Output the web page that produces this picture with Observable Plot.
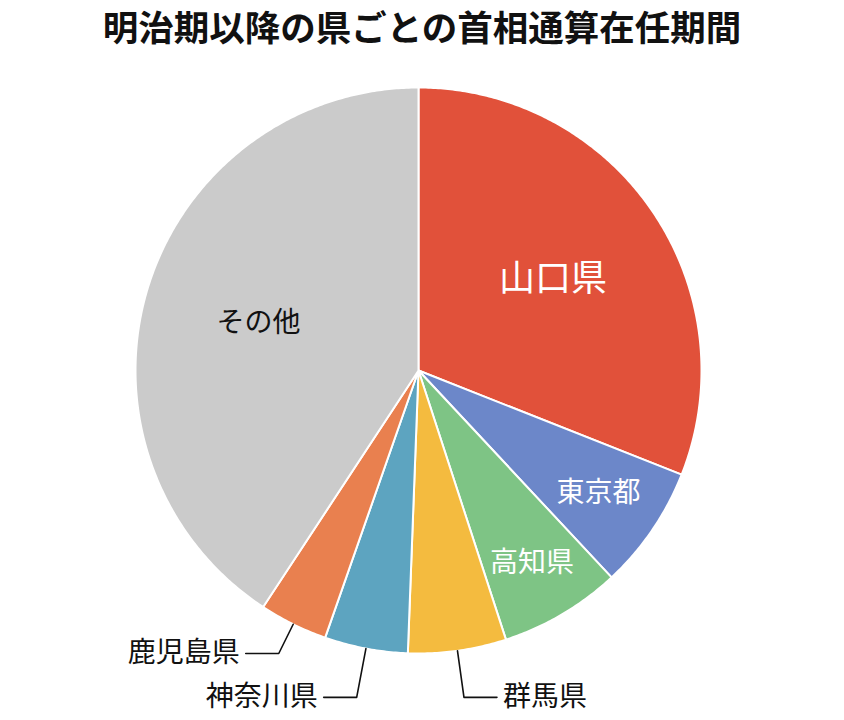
<!DOCTYPE html>
<html>
<head>
<meta charset="utf-8">
<script src="https://cdn.jsdelivr.net/npm/d3@7"></script>
<script src="https://cdn.jsdelivr.net/npm/@observablehq/plot@0.6"></script>
<style>
  body { margin: 0; background: #fff; font-family: "Noto Sans CJK JP", "Noto Sans", sans-serif; }
  #title { width: 844px; height: 52px; line-height: 52px; text-align: center; font-size: 35.5px; font-weight: bold; color: #111; white-space: nowrap; }
  #chart svg { display: block; }
</style>
</head>
<body>
<div id="title">明治期以降の県ごとの首相通算在任期間</div>
<div id="chart"></div>
<script>
// Data (share of total tenure, %), clockwise from 12 o'clock
const names  = ["山口県", "東京都", "高知県", "群馬県", "神奈川県", "鹿児島県", "その他"];
const shares = [31.0, 7.05, 6.95, 5.6, 4.75, 3.9, 40.75];
const colors = ["#E1513A", "#6C87C9", "#7EC485", "#F4BB3F", "#5DA4C0", "#E9804F", "#CBCBCB"];

// Label layout (styles/positions kept separate from data)
const insideLabels = {
  "山口県":  {r: 0.575, size: 36, color: "#ffffff"},
  "東京都":  {r: 0.77,  size: 28, color: "#ffffff"},
  "高知県":  {r: 0.79,  size: 28, color: "#ffffff"},
  "その他":  {r: 0.59,  size: 28, color: "#111111"}
};
const outsideLabels = {
  "鹿児島県": {elbowY: -1.0,   side: -1},
  "神奈川県": {elbowY: -1.155, side: -1},
  "群馬県":   {elbowY: -1.155, side: 1}
};

const R_PX = 283, CX = 418, CY = 318;
const px = 1 / R_PX;

const total = d3.sum(shares);
let acc = 0;
const slices = names.map((name, i) => {
  const a0 = acc / total * 2 * Math.PI;
  acc += shares[i];
  const a1 = acc / total * 2 * Math.PI;
  return {name, color: colors[i], a0, a1, mid: (a0 + a1) / 2};
});

// Wedge polygons in data units (unit circle), angle clockwise from north
function wedge(s) {
  const pts = [{name: s.name, x: 0, y: 0}];
  const n = Math.max(2, Math.ceil((s.a1 - s.a0) / (Math.PI / 360)));
  for (let k = 0; k <= n; k++) {
    const a = s.a0 + (s.a1 - s.a0) * k / n;
    pts.push({name: s.name, x: Math.sin(a), y: Math.cos(a)});
  }
  return pts;
}

const marks = slices.map(s => Plot.line(wedge(s), {
  x: "x", y: "y", curve: "linear-closed",
  fill: s.color, stroke: "#ffffff", strokeWidth: 2, strokeLinejoin: "round"
}));

// Inside labels
for (const s of slices) {
  const L = insideLabels[s.name];
  if (!L) continue;
  marks.push(Plot.text([{name: s.name, x: Math.sin(s.mid) * L.r, y: Math.cos(s.mid) * L.r}], {
    x: "x", y: "y", text: "name", fill: L.color, fontSize: L.size,
    fontFamily: "Noto Sans CJK JP", fontWeight: 400
  }));
}

// Outside labels with leader lines
for (const s of slices) {
  const L = outsideLabels[s.name];
  if (!L) continue;
  const start = {x: Math.sin(s.mid), y: Math.cos(s.mid)};
  const t = L.elbowY / Math.cos(s.mid);
  const elbow = {x: Math.sin(s.mid) * t, y: L.elbowY};
  const end = {x: elbow.x + L.side * 33 * px, y: L.elbowY};
  marks.push(Plot.line([start, elbow, end], {x: "x", y: "y", stroke: "#111", strokeWidth: 1.6}));
  marks.push(Plot.text([{name: s.name, x: end.x + L.side * 6 * px, y: L.elbowY}], {
    x: "x", y: "y", text: "name", fill: "#111", fontSize: 28,
    fontFamily: "Noto Sans CJK JP", fontWeight: 400,
    textAnchor: L.side < 0 ? "end" : "start"
  }));
}

const chart = Plot.plot({
  width: 844, height: 668, margin: 0,
  style: {fontFamily: "Noto Sans CJK JP", background: "#fff"},
  x: {domain: [-1, 1], range: [CX - R_PX, CX + R_PX], axis: null},
  y: {domain: [-1, 1], range: [CY + R_PX, CY - R_PX], axis: null},
  marks
});
document.getElementById("chart").appendChild(chart);
</script>
</body>
</html>
